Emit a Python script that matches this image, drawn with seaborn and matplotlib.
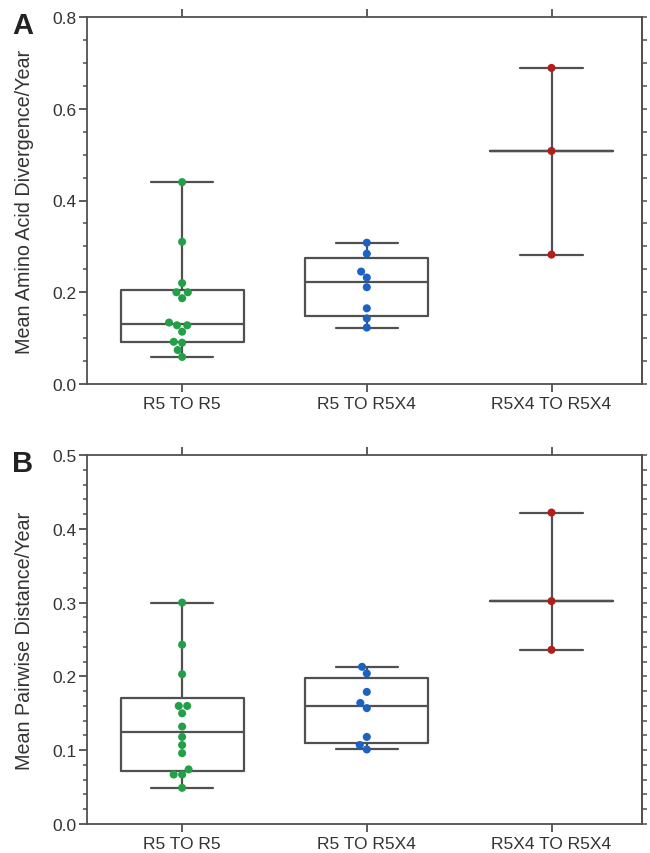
import numpy as np
import pandas as pd
import matplotlib
matplotlib.use("Agg")
import matplotlib.pyplot as plt
from matplotlib.ticker import MultipleLocator
import seaborn as sns

# Comparison groups and their marker colours
categories = ["R5 TO R5", "R5 TO R5X4", "R5X4 TO R5X4"]
colors = ["#21a048", "#1c62c2", "#b51d1d"]

# Panel A: mean amino acid divergence per year
aa_r5_r5 = [0.440, 0.310, 0.220, 0.200, 0.200, 0.187, 0.134, 0.128, 0.128,
            0.114, 0.092, 0.090, 0.074, 0.059]
aa_r5_r5x4 = [0.308, 0.284, 0.245, 0.232, 0.211, 0.165, 0.143, 0.123]
aa_r5x4_r5x4 = [0.689, 0.508, 0.282]

# Panel B: mean pairwise distance per year
pd_r5_r5 = [0.300, 0.243, 0.203, 0.160, 0.160, 0.150, 0.132, 0.118, 0.107,
            0.096, 0.074, 0.067, 0.067, 0.049]
pd_r5_r5x4 = [0.213, 0.204, 0.179, 0.164, 0.157, 0.118, 0.107, 0.101]
pd_r5x4_r5x4 = [0.422, 0.302, 0.236]

LINE = "#505050"
TEXT = "#333333"

sns.set_theme(style="ticks")
plt.rcParams["font.family"] = ["Liberation Sans", "DejaVu Sans"]
plt.rcParams["axes.edgecolor"] = LINE
plt.rcParams["xtick.color"] = LINE
plt.rcParams["ytick.color"] = LINE
plt.rcParams["xtick.labelcolor"] = TEXT
plt.rcParams["ytick.labelcolor"] = TEXT


def box_stats(values):
    """Quartiles with the (n+1)p rule; very small groups show median and range only."""
    v = np.asarray(values, dtype=float)
    med = np.median(v)
    if len(v) < 4:
        q1 = q3 = med
    else:
        q1, q3 = np.percentile(v, [25, 75], method="weibull")
    return dict(med=med, q1=q1, q3=q3, whislo=v.min(), whishi=v.max(), fliers=[])


def draw_panel(ax, groups, ylabel, ymax, major, minor, right_step):
    df = pd.DataFrame({
        "group": np.repeat(categories, [len(g) for g in groups]),
        "value": np.concatenate(groups),
    })
    line = dict(color=LINE, linewidth=1.6)
    ax.bxp([box_stats(g) for g in groups], positions=range(len(groups)),
           widths=0.667, capwidths=0.336, showfliers=False, manage_ticks=False,
           boxprops=line, medianprops=line, whiskerprops=line, capprops=line,
           zorder=2)
    sns.swarmplot(data=df, x="group", y="value", hue="group", order=categories,
                  hue_order=categories, palette=colors, size=5.8, legend=False,
                  ax=ax, zorder=3)

    ax.set_xlim(-0.515, 2.49)
    ax.set_ylim(0, ymax)
    ax.yaxis.set_major_locator(MultipleLocator(major))
    ax.yaxis.set_minor_locator(MultipleLocator(minor))
    ax.set_xlabel("")
    ax.set_ylabel(ylabel, fontsize=14.2, color=TEXT, labelpad=13)

    for s in ax.spines.values():
        s.set_linewidth(1.3)
        s.set_color(LINE)
    ax.tick_params(axis="x", which="major", top=True, labeltop=False,
                   length=6, width=1.3, pad=3, labelsize=12.5, direction="out")
    ax.tick_params(axis="y", which="major", length=6, width=1.3, pad=1.5,
                   labelsize=12.5, direction="out", right=False)
    ax.tick_params(axis="y", which="minor", length=3, width=1.1,
                   direction="out", right=False)

    sec = ax.secondary_yaxis("right")
    sec.yaxis.set_major_locator(MultipleLocator(right_step))
    sec.tick_params(length=3.5, width=1.1, labelright=False, color=LINE)
    sec.spines["right"].set_color(LINE)
    sec.spines["right"].set_linewidth(1.3)


fig = plt.figure(figsize=(6.5, 8.54), dpi=100)
W, H = 650, 854
left, right = 87, 642
axA = fig.add_axes([left / W, 1 - 385 / H, (right - left) / W, (385 - 18) / H])
axB = fig.add_axes([left / W, 1 - 825 / H, (right - left) / W, (825 - 456) / H])

draw_panel(axA, [aa_r5_r5, aa_r5_r5x4, aa_r5x4_r5x4],
           "Mean Amino Acid Divergence/Year", 0.8, 0.2, 0.05, 0.05)
draw_panel(axB, [pd_r5_r5, pd_r5_r5x4, pd_r5x4_r5x4],
           "Mean Pairwise Distance/Year", 0.5, 0.1, 0.02, 0.02)

fig.text(12 / W, 1 - 34 / H, "A", fontsize=21, fontweight="bold",
         color="#222222", va="baseline", ha="left")
fig.text(12 / W, 1 - 472 / H, "B", fontsize=21, fontweight="bold",
         color="#222222", va="baseline", ha="left")

fig.savefig("out.png", dpi=100, facecolor="white")
